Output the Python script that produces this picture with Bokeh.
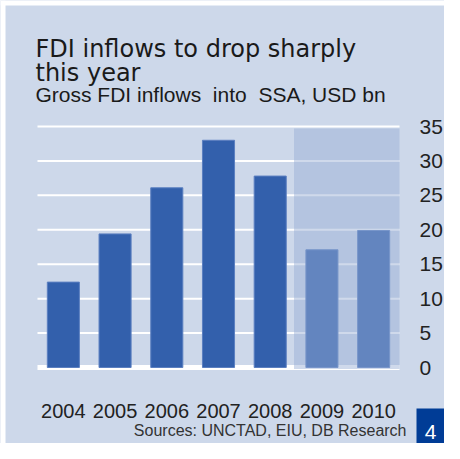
from bokeh.plotting import figure
from bokeh.models import Range1d, BoxAnnotation, Label, ColumnDataSource
from bokeh.core.properties import value
from bokeh.embed import file_html
from bokeh.resources import INLINE

# ---- data ----
years = ["2004", "2005", "2006", "2007", "2008", "2009", "2010"]
fdi_inflows = [12.4, 19.4, 26.1, 33.0, 27.8, 17.1, 19.9]
forecast_years = ["2009", "2010"]
y_ticks = [0, 5, 10, 15, 20, 25, 30, 35]

title_line1 = "FDI inflows to drop sharply"
title_line2 = "this year"
subtitle = "Gross FDI inflows\u00a0 into\u00a0 SSA, USD bn"
source_text = "Sources: UNCTAD, EIU, DB Research"
page_number = "4"

BG = "#cdd8ea"
BAR = "#3360ac"
TXT = "#222222"

# window 460x459 minus the 8px page margin on each side
W, H = 444, 443
# plot-area geometry in canvas pixels
PX_LEFT, PX_RIGHT = 37, 399        # x extent of the category band
PX_ZERO, PX_TOP = 367, 126         # y pixel of value 0 and of the top tick
n = len(years)
CAT_W = (PX_RIGHT - PX_LEFT) / n
PPU = (PX_ZERO - PX_TOP) / y_ticks[-1]

x_start = -PX_LEFT / CAT_W
x_end = (W - PX_LEFT) / CAT_W
y_start = -(H - PX_ZERO) / PPU
y_end = PX_ZERO / PPU


def dx(px):
    return (px - PX_LEFT) / CAT_W


def dy(py):
    return (PX_ZERO - py) / PPU


p = figure(width=W, height=H, output_backend="svg", toolbar_location=None,
           x_range=Range1d(x_start, x_end), y_range=Range1d(y_start, y_end),
           min_border=0, min_border_left=0, min_border_right=0,
           min_border_top=0, min_border_bottom=0,
           x_axis_location=None, y_axis_location=None)
p.title.visible = False
p.background_fill_color = BG
p.border_fill_color = BG
p.outline_line_color = None
p.grid.visible = False

# white page strips (top / left)
p.add_layout(BoxAnnotation(left=x_start, right=x_end, bottom=dy(5), top=y_end,
                           fill_color="white", fill_alpha=1, line_color=None,
                           level="underlay"))
p.add_layout(BoxAnnotation(left=x_start, right=dx(5), bottom=y_start, top=y_end,
                           fill_color="white", fill_alpha=1, line_color=None,
                           level="underlay"))

# gridlines
grid_src = ColumnDataSource(dict(y=[t for t in y_ticks if t != 0]))
p.segment(x0=0, x1=n, y0="y", y1="y", source=grid_src,
          line_color="white", line_width=2)
p.segment(x0=[0], x1=[n], y0=[0], y1=[0], line_color="white", line_width=5)

# bars
xc = [i + 0.5 for i in range(n)]
src = ColumnDataSource(dict(x=xc, val=fdi_inflows, year=years))
p.vbar(x="x", top="val", bottom=0, width=0.62, source=src,
       fill_color=BAR, line_color="#5b7fc0", line_width=1)

# forecast shading overlay
f_left = years.index(forecast_years[0])
f_right = years.index(forecast_years[-1]) + 1
p.add_layout(BoxAnnotation(left=f_left - 0.04, right=f_right, bottom=-0.2, top=34.7,
                           fill_color="#98aed5", fill_alpha=0.47, line_color=None))

# axis tick labels (through the scales)
ytick_src = ColumnDataSource(dict(y=y_ticks, t=[str(t) for t in y_ticks]))
p.text(x=dx(419), y="y", text="t", source=ytick_src,
       text_font=value("Liberation Sans"), text_font_size="21px",
       text_color=TXT, text_align="left", text_baseline="middle")
p.text(x="x", y=dy(410), text="year", source=src,
       text_font=value("Liberation Sans"), text_font_size="20px",
       text_color=TXT, text_align="center", text_baseline="alphabetic")


def lab(text, cx, cy, size, font="Liberation Sans", align="left", color=TXT):
    return Label(x=dx(cx), y=dy(cy), text=text, text_font=font, text_font_size=size,
                 text_color=color, text_align=align, text_baseline="alphabetic")


p.add_layout(lab(title_line1, 35, 48, "24px", font="DejaVu Sans", color="#1a1a1a"))
p.add_layout(lab(title_line2, 35, 72, "24px", font="DejaVu Sans", color="#1a1a1a"))
p.add_layout(lab(subtitle, 35, 94, "21px", color="#1a1a1a"))
p.add_layout(lab(source_text, 406, 430, "16px", align="right", color="#333333"))

p.add_layout(BoxAnnotation(left=dx(416), right=x_end, top=dy(408), bottom=y_start,
                           fill_color="#003c96", fill_alpha=1, line_color=None))
p.add_layout(lab(page_number, 430, 431, "21px", align="center", color="white"))

open("out.html", "w").write(file_html(p, INLINE))
